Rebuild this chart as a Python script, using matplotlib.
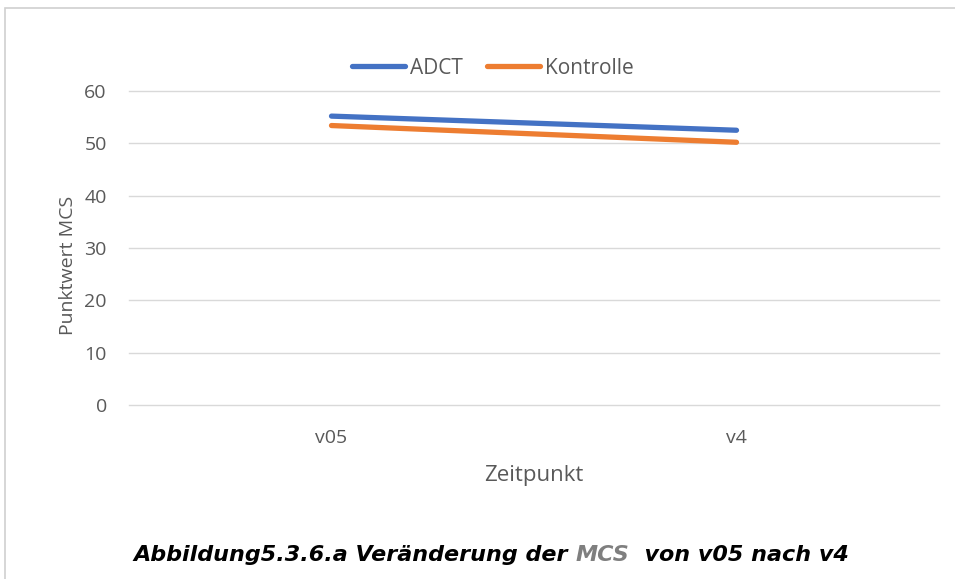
import matplotlib
matplotlib.use("Agg")
import matplotlib.pyplot as plt
from matplotlib.patches import Rectangle

categories = ["v05", "v4"]
adct = [55.2, 52.5]
kontrolle = [53.4, 50.2]
yticks = [0, 10, 20, 30, 40, 50, 60]

W, H = 955, 579
fig = plt.figure(figsize=(W/100, H/100), dpi=100)
fig.patch.set_facecolor("white")

# outer border
fig.add_artist(Rectangle((5/W, -0.01), 1.0, 1 - 8/H + 0.01, transform=fig.transFigure,
                         fill=False, edgecolor="#d0d0d0", linewidth=1.2))

ax = fig.add_axes([129/W, 1 - 405/H, (939-129)/W, (405-91)/H])
x = list(range(len(categories)))
ax.plot(x, adct, color="#4472C4", linewidth=3.8, solid_capstyle="round", label="ADCT")
ax.plot(x, kontrolle, color="#ED7D31", linewidth=3.8, solid_capstyle="round", label="Kontrolle")
ax.set_xlim(-0.5, 1.5)
ax.set_ylim(0, 60)
ax.set_yticks(yticks)
ax.set_xticks(x)
ax.set_xticklabels(categories)
ax.yaxis.grid(True, color="#d9d9d9", linewidth=1)
for gl in ax.get_ygridlines():
    gl.set_clip_on(False)
ax.set_axisbelow(True)
for s in ax.spines.values():
    s.set_visible(False)
ax.tick_params(axis="both", length=0, labelsize=14, labelcolor="#595959")
ax.tick_params(axis="y", pad=16)
ax.tick_params(axis="x", pad=17)
for lab in ax.get_xticklabels() + ax.get_yticklabels():
    lab.set_family("Open Sans")
ax.set_xlabel("Zeitpunkt", fontsize=16, color="#595959", family="Open Sans", labelpad=13.5)
ax.set_ylabel("Punktwert MCS", fontsize=14, color="#595959", family="Open Sans")
ax.yaxis.set_label_coords((77-129)/810, (405-265)/314)

leg = ax.legend(loc="center", bbox_to_anchor=((493-129)/810, 1 + (91-68)/(405-91)), ncol=2,
                frameon=False, prop={"family": "Open Sans", "size": 15}, handlelength=2.55,
                columnspacing=1.15, handletextpad=0.25)
for t in leg.get_texts():
    t.set_color("#595959")

fy = 1 - 555/H
kw = dict(family="DejaVu Sans", fontsize=16, fontweight="bold", style="italic", va="center")
t1 = fig.text(133/W, fy, "Abbildung5.3.6.a Veränderung der ", color="black", **kw)
fig.canvas.draw()
r = fig.canvas.get_renderer()
bb = t1.get_window_extent(r)
t2 = fig.text(bb.x1/W, fy, "MCS", color="#7f7f7f", **kw)
bb2 = t2.get_window_extent(r)
fig.text(bb2.x1/W, fy, "  von v05 nach v4", color="black", **kw)

fig.savefig("out.png", dpi=100)
